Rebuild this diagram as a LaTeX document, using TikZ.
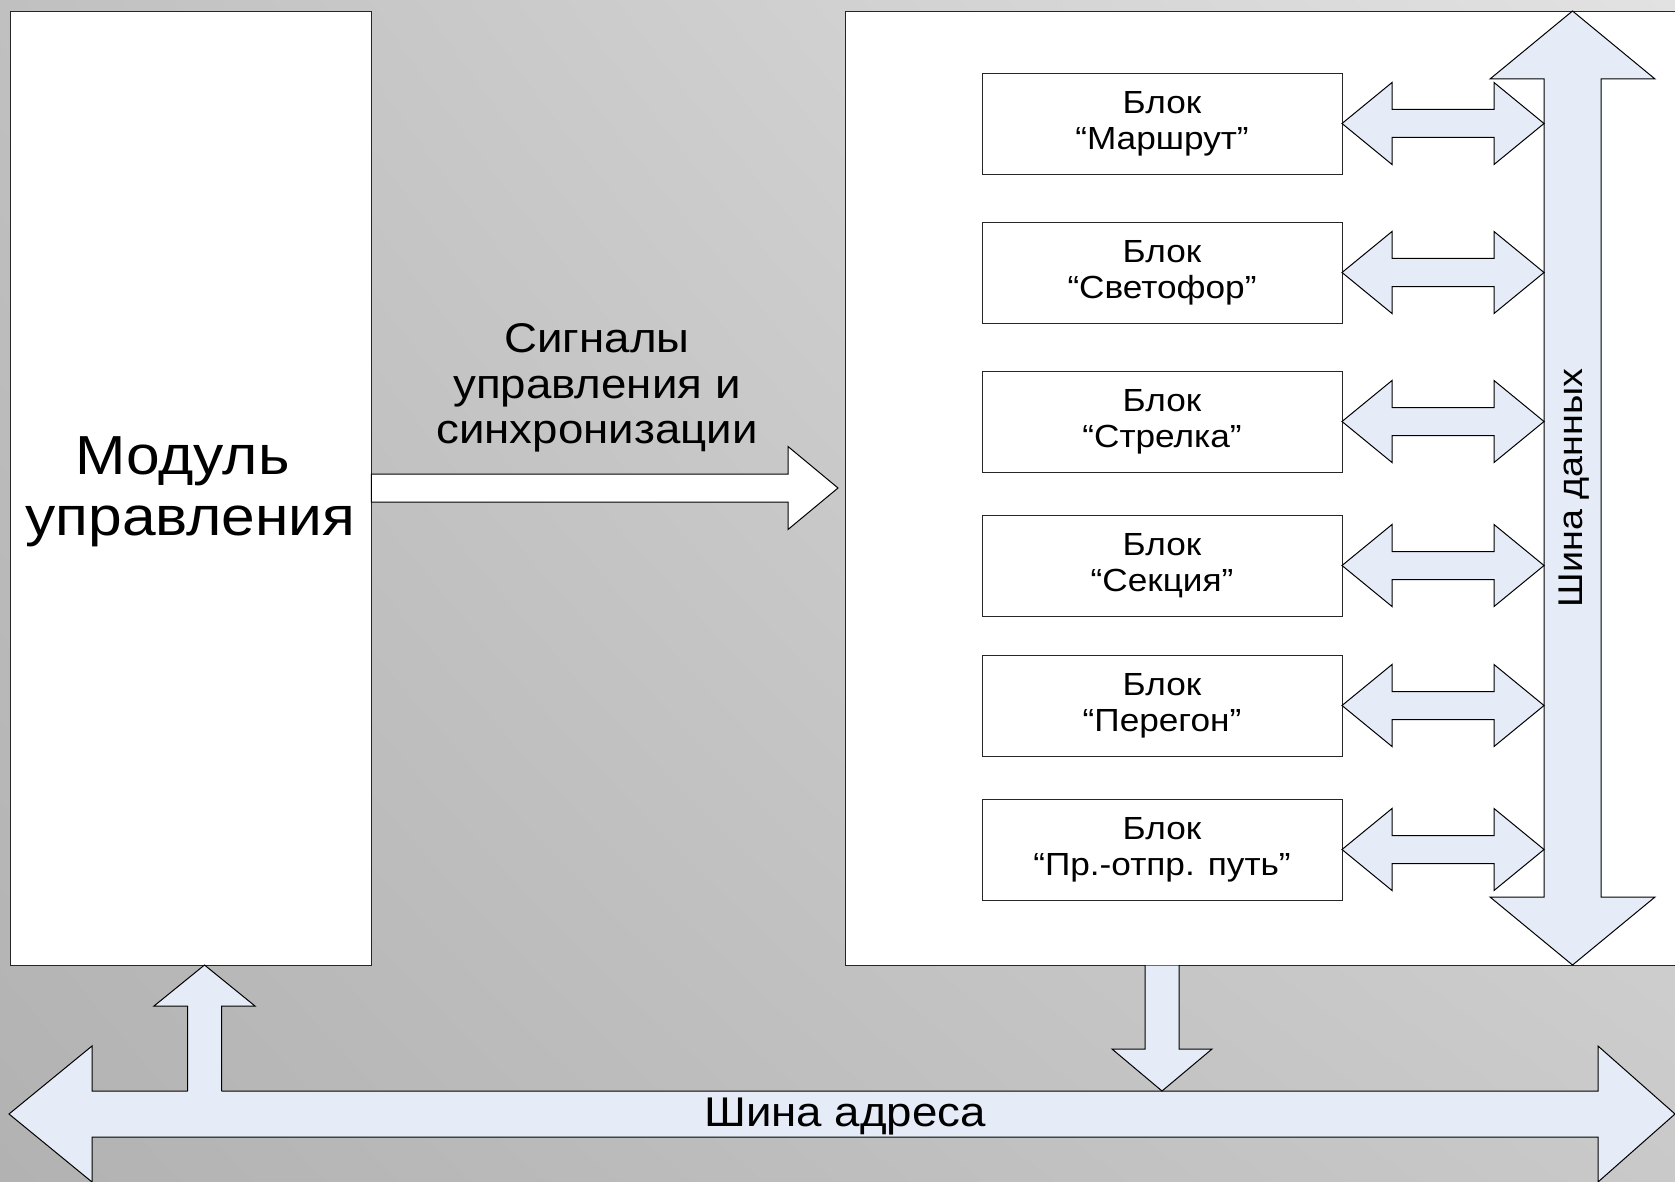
\documentclass[tikz,border=0pt]{standalone}
\usepackage{fontspec}
\setmainfont{Liberation Sans}[FakeStretch=1.1]
\usetikzlibrary{shadings,calc}
\definecolor{arrowfill}{HTML}{E5ECF7}
\definecolor{bgUL}{HTML}{C0C0C0}
\definecolor{bgUR}{HTML}{E2E2E2}
\definecolor{bgLL}{HTML}{B2B2B2}
\definecolor{bgLR}{HTML}{C9C9C9}
% horizontal double block arrow: x1, x2, y, head length, head half-height, shaft half-height
\newcommand\myHDarrow[6]{%
  \draw[barrow] (#1,#3) -- ({#1+#4},{#3-#5}) -- ({#1+#4},{#3-#6}) -- ({#2-#4},{#3-#6}) -- ({#2-#4},{#3-#5}) -- (#2,#3)
    -- ({#2-#4},{#3+#5}) -- ({#2-#4},{#3+#6}) -- ({#1+#4},{#3+#6}) -- ({#1+#4},{#3+#5}) -- cycle;}
\begin{document}
\begin{tikzpicture}[x=1pt,y=-1pt,
  blockbox/.style={draw=black!85, fill=white, line width=0.9pt, minimum width=360pt, minimum height=101pt,
    align=center, inner sep=0pt, font=\fontsize{32}{36}\selectfont},
  bigbox/.style={draw=black!85, fill=white, line width=0.9pt, inner sep=0pt},
  barrow/.style={draw=black, fill=arrowfill, line width=1pt, line join=miter},
  warrow/.style={draw=black, fill=white, line width=1pt, line join=miter}]
\useasboundingbox (0,0) rectangle (1675,1182);
\clip (0,0) rectangle (1675,1182);
\shade[upper left=bgUL, upper right=bgUR, lower left=bgLL, lower right=bgLR] (0,0) rectangle (1675,1182);

% main boxes
\node[bigbox, minimum width=361pt, minimum height=954pt] (mod) at (190.5,488) {};
\node[align=center, font=\fontsize{55}{61}\selectfont] (modtext) at (190.5,492) {Модуль\hspace*{16pt}\\управления};
\node[bigbox, anchor=north west, minimum width=845pt, minimum height=954pt] (main) at (845,11) {};

% signal arrow
\coordinate (sigtip) at (838,488);
\draw[warrow] ($(mod.east)+(0,-14)$) -- (788,474) -- (788,446.5) -- (sigtip) -- (788,529.5) -- (788,502) -- ($(mod.east)+(0,14)$) -- cycle;
\node[align=center, font=\fontsize{41.5}{45.5}\selectfont] (sig) at (597,388) {Сигналы\\управления и\\синхронизации};

% blocks
\node[blockbox] (b1) at (1162,123.5) {Блок\\“Маршрут”};
\node[blockbox] (b2) at (1162,272.5) {Блок\\“Светофор”};
\node[blockbox] (b3) at (1162,421.5) {Блок\\“Стрелка”};
\node[blockbox] (b4) at (1162,565.5) {Блок\\“Секция”};
\node[blockbox] (b5) at (1162,705.5) {Блок\\“Перегон”};
\node[blockbox] (b6) at (1162,849.5) {Блок\\“Пр.-отпр. путь”};

% data bus (vertical double arrow)
\coordinate (dtop) at (1572.5,11);
\coordinate (dbot) at (1572.5,965);
\draw[barrow] (dtop) -- (1655,79) -- (1601,79) -- (1601,897) -- (1655,897) -- (dbot) -- (1490,897) -- (1544,897) -- (1544,79) -- (1490,79) -- cycle;
\node[rotate=90, font=\fontsize{34.3}{40}\selectfont] (dbus) at (1574,488) {Шина данных};

% block to bus double arrows
\foreach \y in {123.5,272.5,421.5,565.5,705.5,849.5}{\myHDarrow{1342}{1544}{\y}{50}{41}{14}}

% address bus
\draw[barrow] (9,1114) -- (92,1046) -- (92,1091) -- (1598,1091) -- (1598,1046) -- (1675,1114) -- (1598,1182) -- (1598,1137) -- (92,1137) -- (92,1182) -- cycle;
\node[font=\fontsize{41.5}{48}\selectfont] (abus) at (845,1117) {Шина адреса};

% address bus -> control module
\fill[arrowfill] (204.5,965) -- (255,1006) -- (221.5,1006) -- (221.5,1092.5) -- (187.5,1092.5) -- (187.5,1006) -- (154,1006) -- cycle;
\draw[line width=1pt, line join=miter] (221.5,1091) -- (221.5,1006) -- (255,1006) -- (204.5,965) -- (154,1006) -- (187.5,1006) -- (187.5,1091);

% main block -> address bus
\fill[arrowfill] (1145,965.5) -- (1145,1049) -- (1112,1049) -- (1162,1091) -- (1212,1049) -- (1179,1049) -- (1179,965.5) -- cycle;
\draw[line width=1pt, line join=miter] (1145,965) -- (1145,1049) -- (1112,1049) -- (1162,1091) -- (1212,1049) -- (1179,1049) -- (1179,965);
\end{tikzpicture}
\end{document}
